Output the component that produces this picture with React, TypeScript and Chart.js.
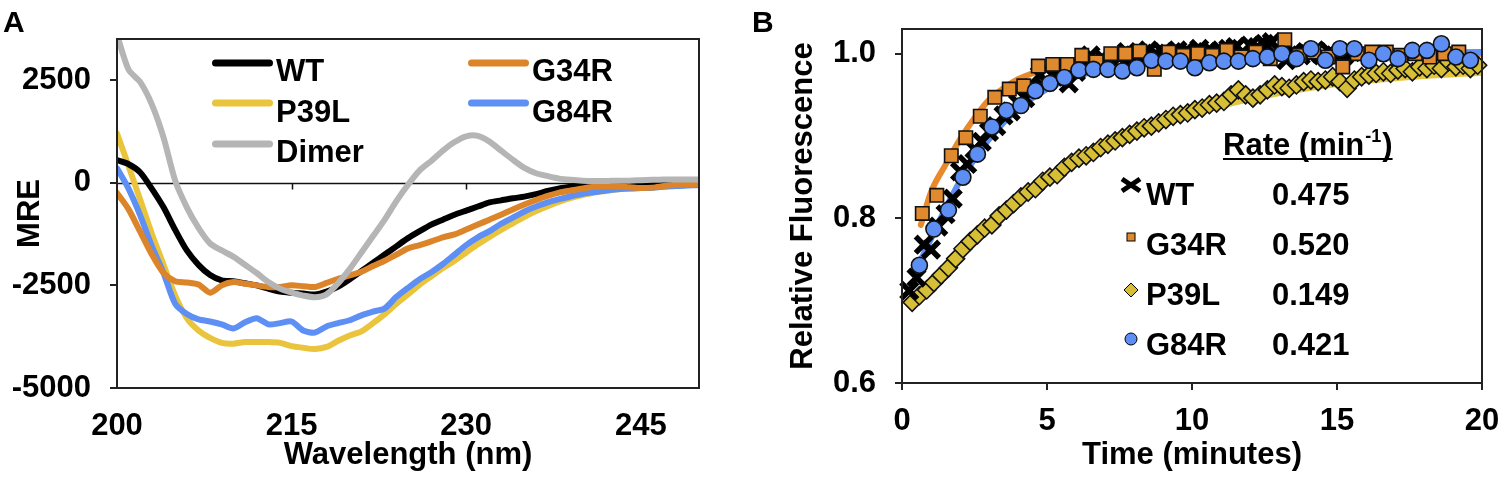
import React, { useEffect, useRef } from 'react';
import { Chart, registerables } from 'chart.js';

Chart.register(...registerables);

const FONT = '"Liberation Sans", Arial, Helvetica, sans-serif';
const AXIS = '#222222';

// ---------------- Panel A : CD spectra ----------------
const wavelengths = [200, 201, 202, 203, 204, 205, 206, 207, 208, 209, 210, 211, 212, 213, 214, 215, 216, 217, 218, 219, 220, 221, 222, 223, 224, 225, 226, 227, 228, 229, 230, 231, 232, 233, 234, 235, 236, 237, 238, 239, 240, 241, 242, 243, 244, 245, 246, 247, 248, 249, 250];

const cdWT = [550, 450, 250, -150, -600, -1150, -1650, -2000, -2250, -2380,
  -2400, -2450, -2500, -2580, -2650, -2680, -2700, -2720, -2650, -2530,
  -2350, -2150, -1950, -1750, -1550, -1350, -1180, -1020, -900, -780,
  -680, -580, -480, -430, -380, -340, -280, -200, -140, -100,
  -70, -50, -30, -20, -10, -10, 0, 0, 0, 0, 0];

const cdG34R = [-250, -650, -1200, -1750, -2200, -2400, -2430, -2480, -2680, -2500,
  -2420, -2460, -2500, -2540, -2540, -2500, -2520, -2540, -2440, -2340,
  -2260, -2170, -2030, -1900, -1750, -1600, -1520, -1430, -1330, -1260,
  -1140, -1020, -900, -780, -650, -530, -420, -320, -240, -190,
  -140, -100, -90, -90, -110, -130, -120, -80, -50, -40, -30];

const cdP39L = [1200, 400, -420, -1250, -2000, -2750, -3300, -3600, -3780, -3900,
  -3920, -3880, -3880, -3880, -3900, -3980, -4020, -4050, -4000, -3850,
  -3720, -3620, -3420, -3200, -2950, -2720, -2480, -2280, -2080, -1900,
  -1700, -1500, -1320, -1150, -990, -830, -690, -570, -460, -370,
  -300, -240, -200, -160, -140, -130, -110, -80, -60, -40, -30];

const cdG84R = [350, -150, -800, -1550, -2200, -2950, -3200, -3330, -3380, -3450,
  -3550, -3400, -3300, -3450, -3420, -3380, -3600, -3650, -3500, -3420,
  -3350, -3230, -3140, -3060, -2780, -2560, -2350, -2180, -1980, -1750,
  -1520, -1330, -1180, -1000, -850, -700, -580, -480, -400, -330,
  -270, -230, -190, -160, -140, -130, -120, -100, -80, -70, -60];

const cdDimer = [3600, 2750, 2450, 1900, 1100, 50, -600, -1100, -1480, -1650,
  -1800, -2000, -2200, -2420, -2580, -2680, -2750, -2790, -2720, -2450,
  -2100, -1700, -1300, -900, -450, -50, 300, 530, 780, 990,
  1130, 1140, 1000, 780, 560, 360, 230, 160, 100, 70,
  50, 40, 40, 50, 50, 60, 70, 80, 80, 80, 80];

const cdNames = ['WT', 'G34R', 'P39L', 'G84R', 'Dimer'];
const cdColors = ['#000000', '#dc842a', '#e9c43c', '#5d8ff4', '#b5b5b5'];
const cdXTicks = [200, 215, 230, 245];
const cdYTicks = [-5000, -2500, 0, 2500];

// ---------------- Panel B : fluorescence kinetics ----------------
const timeWT = [0.25, 0.5, 0.75, 1.0, 1.25, 1.5, 1.75, 2.0, 2.25, 2.5, 2.75, 3.0, 3.25, 3.5, 3.75, 4.0,
  4.25, 4.5, 4.75, 5.0, 5.25, 5.5, 5.75, 6.0, 6.25, 6.5, 6.75, 7.0, 7.25, 7.5, 7.75, 8.0,
  8.25, 8.5, 8.75, 9.0, 9.25, 9.5, 9.75, 10.0, 10.25, 10.5, 10.75, 11.0, 11.25, 11.5, 11.75, 12.0,
  12.25, 12.5, 12.75, 13.0, 13.25, 13.5, 13.75, 14.0, 14.25, 14.5, 14.75, 15.0, 15.25, 15.5];
const fluorWT = [0.712, 0.728, 0.768, 0.762, 0.790, 0.805, 0.824, 0.857, 0.866, 0.884, 0.893, 0.905, 0.912, 0.925, 0.930, 0.940,
  0.946, 0.958, 0.974, 0.966, 0.972, 0.970, 0.964, 0.978, 0.985, 0.998, 0.990, 0.992, 0.988, 0.995, 1.002, 0.998,
  0.996, 1.004, 1.000, 1.002, 0.998, 1.004, 1.002, 0.998, 1.006, 1.002, 1.000, 1.004, 1.006, 1.008, 1.002, 1.010,
  1.008, 1.012, 1.014, 1.004, 0.992, 1.002, 0.998, 1.000, 1.004, 0.998, 1.002, 0.996, 0.998, 1.002];

const timeG34R = [0.7, 1.2, 1.7, 2.2, 2.7, 3.2, 3.7, 4.2, 4.7, 5.2, 5.7, 6.2, 6.7, 7.2, 7.7, 8.2, 8.7, 9.2, 9.7,
  10.2, 10.7, 11.2, 11.7, 12.2, 12.7, 13.2, 13.7, 14.2, 14.7, 15.2, 15.7, 16.2, 16.7, 17.2, 17.7, 18.2, 18.7, 19.2];
const fluorG34R = [0.806, 0.828, 0.876, 0.898, 0.924, 0.947, 0.957, 0.961, 0.985, 0.987, 0.987, 0.998, 0.990, 1.000, 1.000, 1.003, 0.981, 1.002, 0.998,
  1.000, 0.998, 1.004, 0.996, 1.002, 0.994, 1.017, 0.998, 1.002, 0.996, 0.984, 1.000, 1.002, 1.002, 0.998, 1.000, 0.996, 1.000, 1.002];

const timeP39L = [0.35, 0.6, 0.85, 1.1, 1.35, 1.6, 1.85, 2.1, 2.35, 2.6, 2.85, 3.1, 3.35, 3.6, 3.85, 4.1,
  4.35, 4.6, 4.85, 5.1, 5.35, 5.6, 5.85, 6.1, 6.35, 6.6, 6.85, 7.1, 7.35, 7.6, 7.85, 8.1,
  8.35, 8.6, 8.85, 9.1, 9.35, 9.6, 9.85, 10.1, 10.35, 10.6, 10.85, 11.1, 11.35, 11.6, 11.85, 12.1,
  12.35, 12.6, 12.85, 13.1, 13.35, 13.6, 13.85, 14.1, 14.35, 14.6, 14.85, 15.1, 15.35, 15.6, 15.85, 16.1,
  16.35, 16.6, 16.85, 17.1, 17.35, 17.6, 17.85, 18.1, 18.35, 18.6, 18.85, 19.1, 19.35, 19.6, 19.85];
const fluorP39L = [0.698, 0.706, 0.713, 0.722, 0.731, 0.740, 0.751, 0.763, 0.772, 0.780, 0.788, 0.792, 0.803, 0.810, 0.818, 0.826,
  0.832, 0.836, 0.845, 0.850, 0.853, 0.862, 0.868, 0.873, 0.876, 0.880, 0.886, 0.890, 0.894, 0.898, 0.902, 0.906,
  0.910, 0.912, 0.916, 0.920, 0.924, 0.926, 0.928, 0.932, 0.934, 0.938, 0.940, 0.942, 0.950, 0.956, 0.950, 0.946,
  0.950, 0.956, 0.962, 0.960, 0.958, 0.962, 0.966, 0.968, 0.966, 0.968, 0.972, 0.966, 0.958, 0.968, 0.972, 0.974,
  0.976, 0.978, 0.976, 0.980, 0.982, 0.978, 0.984, 0.982, 0.986, 0.982, 0.990, 0.984, 0.986, 0.982, 0.986];

const timeG84R = [0.6, 1.1, 1.6, 2.1, 2.6, 3.1, 3.6, 4.1, 4.6, 5.1, 5.6, 6.1, 6.6, 7.1, 7.6, 8.1, 8.6, 9.1, 9.6, 10.1,
  10.6, 11.1, 11.6, 12.1, 12.6, 13.1, 13.6, 14.1, 14.6, 15.1, 15.6, 16.1, 16.6, 17.1, 17.6, 18.1, 18.6, 19.1, 19.6];
const fluorG84R = [0.743, 0.787, 0.810, 0.850, 0.878, 0.911, 0.931, 0.937, 0.955, 0.964, 0.971, 0.980, 0.981, 0.981, 0.979, 0.983, 0.992, 0.991, 0.991, 0.983,
  0.989, 0.991, 0.991, 0.994, 0.996, 1.000, 0.994, 1.006, 0.992, 1.006, 1.006, 0.992, 1.000, 0.994, 1.004, 1.004, 1.012, 0.996, 0.992];

// fitted curves
const fitTimeG34R = [0.65, 1.0, 1.5, 2.0, 2.5, 3.0, 3.5, 4.0, 5.0, 6.0, 8.0, 10.0, 14.0, 20.0];
const fitG34R = [0.792, 0.832, 0.865, 0.896, 0.922, 0.944, 0.958, 0.969, 0.982, 0.990, 0.997, 0.999, 1.000, 1.000];
const fitTimeG84R = [0.45, 1.0, 1.5, 2.0, 2.5, 3.0, 4.0, 5.0, 6.0, 7.0, 8.0, 10.0, 12.0, 15.0, 20.0];
const fitG84R = [0.735, 0.775, 0.812, 0.845, 0.872, 0.896, 0.933, 0.957, 0.972, 0.982, 0.988, 0.995, 0.998, 1.000, 1.002];
const fitTimeP39L = [0.35, 1.0, 2.0, 3.0, 4.0, 5.0, 6.0, 8.0, 10.0, 12.0, 14.0, 16.0, 18.0, 20.0];
const fitP39L = [0.694, 0.718, 0.757, 0.792, 0.822, 0.848, 0.869, 0.902, 0.927, 0.945, 0.958, 0.967, 0.973, 0.977];

const rateNames = ['WT', 'G34R', 'P39L', 'G84R'];
const rateValues = ['0.475', '0.520', '0.149', '0.421'];
const kinXTicks = [0, 5, 10, 15, 20];
const kinYTicks = [0.6, 0.8, 1.0];

const COL_ORANGE = '#df8a2e';
const COL_YELLOW = '#d6bf36';
const COL_BLUE = '#5c8ef3';

// ---------------- helpers ----------------
const zip = (xs: number[], ys: number[]) => xs.map((x, i) => ({ x, y: ys[i] }));
const bold = (size: number) => ({ family: FONT, size, weight: 'bold' as const });

const panelAPlugin = {
  id: 'panelA',
  beforeDatasetsDraw(chart: any) {
    const { ctx, chartArea: ca, scales } = chart;
    const x = scales.x, y = scales.y;
    const y0 = Math.round(y.getPixelForValue(0)) + 0.5;
    ctx.save();
    ctx.strokeStyle = '#111';
    ctx.lineWidth = 1.5;
    ctx.beginPath();
    ctx.moveTo(ca.left, y0);
    ctx.lineTo(ca.right, y0);
    for (const t of cdXTicks) {
      if (t === 200) continue;
      const px = Math.round(x.getPixelForValue(t)) + 0.5;
      ctx.moveTo(px, y0);
      ctx.lineTo(px, y0 + 6);
    }
    ctx.stroke();
    ctx.restore();
  },
  afterDraw(chart: any) {
    const { ctx, chartArea: ca } = chart;
    ctx.save();
    ctx.strokeStyle = AXIS;
    ctx.lineWidth = 2;
    ctx.strokeRect(ca.left, ca.top, ca.right - ca.left, ca.bottom - ca.top);
    // legend
    const colX = [212, 468];
    const lineY = [63, 103, 144];
    const baseY = [81, 122, 162];
    ctx.lineCap = 'round';
    ctx.lineWidth = 7;
    ctx.font = `bold 31px ${FONT}`;
    ctx.textAlign = 'left';
    ctx.textBaseline = 'alphabetic';
    chart.data.datasets.forEach((ds: any, i: number) => {
      const c = i % 2, r = Math.floor(i / 2);
      const x0 = colX[c];
      ctx.strokeStyle = ds.borderColor;
      ctx.beginPath();
      ctx.moveTo(x0 + 3.5, lineY[r]);
      ctx.lineTo(x0 + 57.5, lineY[r]);
      ctx.stroke();
      ctx.fillStyle = '#000';
      ctx.fillText(ds.label, x0 + 64, baseY[r]);
    });
    ctx.font = `bold 30px ${FONT}`;
    ctx.fillText('A', 3, 32);
    ctx.restore();
  },
};

const panelBPlugin = {
  id: 'panelB',
  afterDraw(chart: any) {
    const { ctx, chartArea: ca } = chart;
    const ox = -740;
    ctx.save();
    ctx.strokeStyle = AXIS;
    ctx.lineWidth = 2;
    ctx.strokeRect(ca.left, ca.top, ca.right - ca.left, ca.bottom - ca.top);
    ctx.fillStyle = '#000';
    ctx.textAlign = 'left';
    ctx.textBaseline = 'alphabetic';
    ctx.font = `bold 30px ${FONT}`;
    ctx.fillText('B', 12, 32);

    // header "Rate (min-1)"
    const hx0 = 1223 + ox;
    let hx = hx0;
    ctx.font = `bold 31px ${FONT}`;
    ctx.fillText('Rate (min', hx, 155);
    hx += ctx.measureText('Rate (min').width;
    ctx.font = `bold 18px ${FONT}`;
    ctx.fillText('-1', hx + 1, 142);
    hx += ctx.measureText('-1').width + 2;
    ctx.font = `bold 31px ${FONT}`;
    ctx.fillText(')', hx, 155);
    hx += ctx.measureText(')').width;
    ctx.fillRect(hx0, 158, hx - hx0, 2);

    const baselines = [205, 255, 305, 355];
    rateNames.forEach((name, i) => {
      const b = baselines[i];
      const mx = 1131 + ox;
      ctx.lineWidth = 1;
      ctx.strokeStyle = '#000';
      if (name === 'WT') {
        const my = b - 20;
        ctx.lineWidth = 5;
        ctx.beginPath();
        ctx.moveTo(mx - 9, my - 6); ctx.lineTo(mx + 9, my + 6);
        ctx.moveTo(mx - 9, my + 6); ctx.lineTo(mx + 9, my - 6);
        ctx.stroke();
      } else if (name === 'G34R') {
        const my = b - 18;
        ctx.fillStyle = COL_ORANGE;
        ctx.fillRect(mx - 4, my - 4, 8, 8);
        ctx.strokeRect(mx - 4, my - 4, 8, 8);
      } else if (name === 'P39L') {
        const my = b - 15;
        ctx.fillStyle = COL_YELLOW;
        ctx.beginPath();
        ctx.moveTo(mx - 7, my); ctx.lineTo(mx, my - 7); ctx.lineTo(mx + 7, my); ctx.lineTo(mx, my + 7);
        ctx.closePath();
        ctx.fill(); ctx.stroke();
      } else {
        const my = b - 16;
        ctx.fillStyle = COL_BLUE;
        ctx.beginPath();
        ctx.arc(mx, my, 6, 0, Math.PI * 2);
        ctx.fill(); ctx.stroke();
      }
      ctx.fillStyle = '#000';
      ctx.font = `bold 31px ${FONT}`;
      ctx.fillText(name, 1146 + ox, b);
      ctx.fillText(rateValues[i], 1272 + ox, b);
    });
    ctx.restore();
  },
};

function configA(): any {
  const order = [2, 1, 4, 3, 0];
  const datasets = cdNames.map((name, i) => ({
    label: name,
    data: zip(wavelengths, [cdWT, cdG34R, cdP39L, cdG84R, cdDimer][i]),
    borderColor: cdColors[i],
    backgroundColor: cdColors[i],
    borderWidth: 6,
    pointRadius: 0,
    tension: 0.25,
    fill: false,
    clip: 0,
    order: order[i],
    borderJoinStyle: 'round',
    borderCapStyle: 'round',
  }));
  return {
    type: 'line',
    data: { datasets },
    plugins: [panelAPlugin],
    options: {
      responsive: false,
      animation: false,
      events: [],
      layout: { padding: { top: 39, right: 41, left: 0, bottom: 0 } },
      plugins: { legend: { display: false }, tooltip: { enabled: false } },
      scales: {
        x: {
          type: 'linear',
          min: 200,
          max: 250,
          afterBuildTicks: (s: any) => { s.ticks = cdXTicks.map((v) => ({ value: v })); },
          afterFit: (s: any) => { s.height = 90; s.paddingLeft = 0; s.paddingRight = 0; },
          grid: { display: false, drawTicks: false },
          border: { display: true, color: AXIS, width: 2 },
          ticks: { padding: 20, color: '#000', font: bold(31), maxRotation: 0, autoSkip: false, callback: (v: any) => String(v) },
          title: { display: true, text: 'Wavelength (nm)', color: '#000', font: bold(31), padding: { top: 0, bottom: 4 } },
        },
        y: {
          type: 'linear',
          min: -5000,
          max: 3500,
          afterBuildTicks: (s: any) => { s.ticks = cdYTicks.map((v) => ({ value: v })); },
          afterFit: (s: any) => { s.width = 117; s.paddingTop = 0; s.paddingBottom = 0; },
          grid: { display: true, drawOnChartArea: false, drawTicks: true, tickLength: 7, color: AXIS, lineWidth: 2 },
          border: { display: true, color: AXIS, width: 2 },
          ticks: { padding: 19, color: '#000', font: bold(31), callback: (v: any) => String(v) },
          title: { display: true, text: 'MRE', color: '#000', font: bold(31), padding: { top: 12, bottom: 0 } },
        },
      },
    },
  };
}

function configB(): any {
  const markerBase = { showLine: false, borderColor: '#111', borderWidth: 1.6, clip: false };
  const fitBase = { showLine: true, pointRadius: 0, borderWidth: 6, tension: 0.4, cubicInterpolationMode: 'monotone', clip: 0, borderCapStyle: 'round' };
  const datasets = [
    { ...markerBase, label: 'G84R', data: zip(timeG84R, fluorG84R), pointStyle: 'circle', pointRadius: 8, backgroundColor: COL_BLUE, order: 0 },
    { ...markerBase, label: 'G34R', data: zip(timeG34R, fluorG34R), pointStyle: 'rect', pointRadius: 9.5, backgroundColor: COL_ORANGE, order: 1 },
    { ...markerBase, label: 'WT', data: zip(timeWT, fluorWT), pointStyle: 'crossRot', pointRadius: 11.5, borderWidth: 5.5, borderColor: '#000', backgroundColor: '#000', order: 2 },
    { ...markerBase, label: 'P39L', data: zip(timeP39L, fluorP39L), pointStyle: 'rectRot', pointRadius: 9, backgroundColor: COL_YELLOW, order: 3 },
    { ...fitBase, label: 'G84R fit', data: zip(fitTimeG84R, fitG84R), borderColor: COL_BLUE, order: 4 },
    { ...fitBase, label: 'G34R fit', data: zip(fitTimeG34R, fitG34R), borderColor: '#e8892c', order: 5 },
    { ...fitBase, label: 'P39L fit', data: zip(fitTimeP39L, fitP39L), borderColor: '#e3c640', order: 6 },
  ];
  return {
    type: 'scatter',
    data: { datasets },
    plugins: [panelBPlugin],
    options: {
      responsive: false,
      animation: false,
      events: [],
      layout: { padding: { top: 29, right: 18, left: 0, bottom: 0 } },
      plugins: { legend: { display: false }, tooltip: { enabled: false } },
      scales: {
        x: {
          type: 'linear',
          min: 0,
          max: 20,
          afterBuildTicks: (s: any) => { s.ticks = kinXTicks.map((v) => ({ value: v })); },
          afterFit: (s: any) => { s.height = 95; s.paddingLeft = 0; s.paddingRight = 0; },
          grid: { display: true, drawOnChartArea: false, drawTicks: true, tickLength: 7, color: AXIS, lineWidth: 2 },
          border: { display: true, color: AXIS, width: 2 },
          ticks: { padding: 13, color: '#000', font: bold(31), maxRotation: 0, autoSkip: false, callback: (v: any) => String(v) },
          title: { display: true, text: 'Time (minutes)', color: '#000', font: bold(31), padding: { top: 0, bottom: 4 } },
        },
        y: {
          type: 'linear',
          min: 0.6,
          max: 1.03,
          afterBuildTicks: (s: any) => { s.ticks = kinYTicks.map((v) => ({ value: v })); },
          afterFit: (s: any) => { s.width = 162; s.paddingTop = 0; s.paddingBottom = 0; },
          grid: { display: true, drawOnChartArea: false, drawTicks: true, tickLength: 7, color: AXIS, lineWidth: 2 },
          border: { display: true, color: AXIS, width: 2 },
          ticks: { padding: 19, color: '#000', font: bold(31), callback: (v: any) => Number(v).toFixed(1) },
          title: { display: true, text: 'Relative Fluorescence', color: '#000', font: bold(31), padding: { top: 45, bottom: 0 } },
        },
      },
    },
  };
}

export default function App() {
  const refA = useRef<HTMLCanvasElement>(null);
  const refB = useRef<HTMLCanvasElement>(null);
  useEffect(() => {
    const a = new Chart(refA.current as HTMLCanvasElement, configA());
    const b = new Chart(refB.current as HTMLCanvasElement, configB());
    return () => {
      a.destroy();
      b.destroy();
    };
  }, []);
  return (
    <div style={{ position: 'absolute', left: 0, top: 0, width: 1500, height: 478, background: '#fff', overflow: 'hidden' }}>
      <canvas ref={refA} width={740} height={478} style={{ position: 'absolute', left: 0, top: 0, width: 740, height: 478 }} />
      <canvas ref={refB} width={760} height={478} style={{ position: 'absolute', left: 740, top: 0, width: 760, height: 478 }} />
    </div>
  );
}
